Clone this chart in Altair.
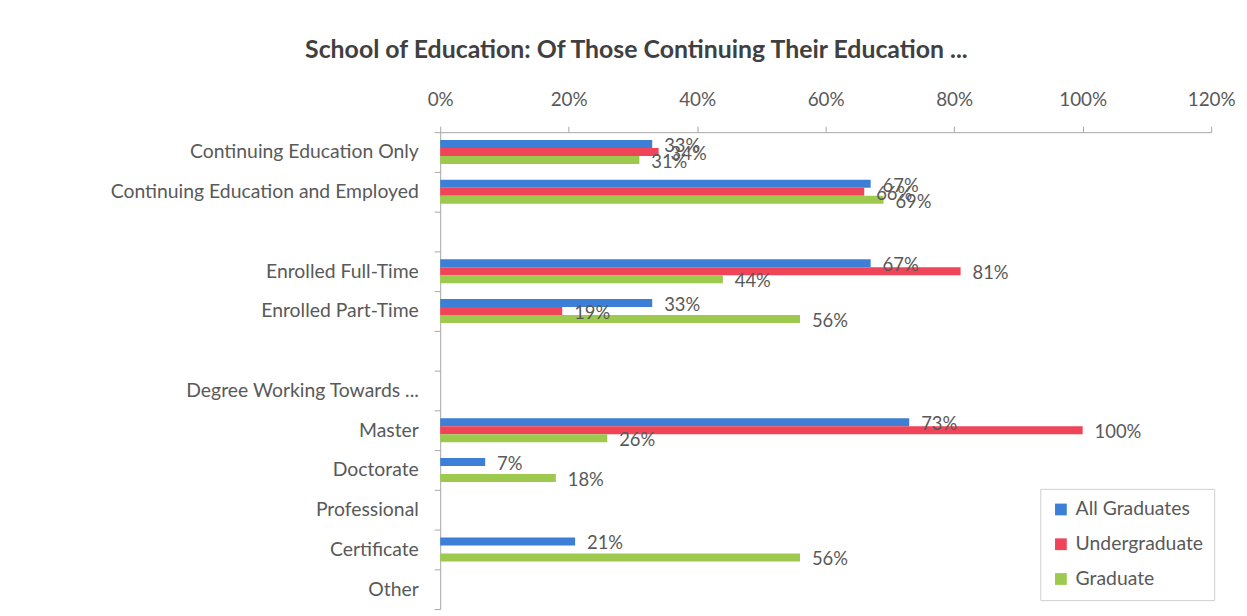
import altair as alt
import pandas as pd

categories = [
    "Continuing Education Only",
    "Continuing Education and Employed",
    "gap1",
    "Enrolled Full-Time",
    "Enrolled Part-Time",
    "gap2",
    "Degree Working Towards ...",
    "Master",
    "Doctorate",
    "Professional",
    "Certificate",
    "Other",
]
series = ["All Graduates", "Undergraduate", "Graduate"]
all_graduates = [33, 67, None, 67, 33, None, None, 73, 7, None, 21, None]
undergraduate = [34, 66, None, 81, 19, None, None, 100, None, None, None, None]
graduate = [31, 69, None, 44, 56, None, None, 26, 18, None, 56, None]
colors = ["#3D7FD6", "#F04458", "#9DC94E"]

rows = []
for s, vals in zip(series, [all_graduates, undergraduate, graduate]):
    for c, v in zip(categories, vals):
        if v is not None:
            rows.append({"category": c, "series": s, "value": v / 100.0, "label": f"{v}%"})
df = pd.DataFrame(rows)

FONT = "Lato"

y_enc = alt.Y(
    "category:N",
    scale=alt.Scale(domain=categories, paddingInner=0, paddingOuter=0),
    axis=alt.Axis(
        title=None,
        labelExpr="indexof(datum.label, 'gap') == 0 ? '' : datum.label",
        tickBand="extent",
        labelFontSize=19.5,
        labelColor="#595959",
        labelFont=FONT,
        labelPadding=16,
        tickSize=6,
        tickColor="#a6a6a6",
        domainColor="#a6a6a6",
        labelLimit=400,
    ),
)
yoff = alt.YOffset(
    "series:N",
    sort=series,
    scale=alt.Scale(domain=series, paddingInner=0, paddingOuter=1),
)
x_enc = alt.X(
    "value:Q",
    scale=alt.Scale(domain=[0, 1.2], nice=False),
    axis=alt.Axis(
        orient="top",
        title=None,
        format=".0%",
        values=[0, 0.2, 0.4, 0.6, 0.8, 1.0, 1.2],
        grid=False,
        labelFlush=False,
        labelFontSize=19,
        labelColor="#595959",
        labelFont=FONT,
        labelPadding=17,
        tickSize=6,
        tickColor="#a6a6a6",
        domainColor="#a6a6a6",
    ),
)

bars = alt.Chart(df).mark_bar().encode(
    x=x_enc,
    y=y_enc,
    yOffset=yoff,
    color=alt.Color(
        "series:N",
        sort=series,
        scale=alt.Scale(domain=series, range=colors),
        legend=alt.Legend(
            title=None,
            orient="none",
            legendX=604,
            legendY=359,
            symbolType="square",
            symbolSize=140,
            symbolStrokeWidth=0,
            labelFontSize=19.5,
            labelFont=FONT,
            labelColor="#595959",
            rowPadding=14,
            strokeColor="#d0d0d0",
            padding=11,
            labelOffset=5,
        ),
    ),
)

texts = alt.Chart(df).mark_text(
    align="left", baseline="middle", dx=12, dy=2, fontSize=18.5, font=FONT, color="#595959"
).encode(
    x="value:Q",
    y=alt.Y("category:N"),
    yOffset=yoff,
    text="label:N",
)

chart = (
    alt.layer(bars, texts)
    .properties(
        width=776,
        height=480,
        autosize=alt.AutoSizeParams(type="none"),
        padding={"left": 435, "top": 123, "right": 28, "bottom": 5},
        title=alt.TitleParams(
            "School of Education: Of Those Continuing Their Education ...",
            anchor="start",
            frame="group",
            dx=-136,
            offset=28,
            fontSize=25,
            font=FONT,
            fontWeight="bold",
            color="#404040",
        ),
    )
    .configure_view(stroke=None)
)

chart.save("out.html", embed_options={"renderer": "svg", "actions": False})
